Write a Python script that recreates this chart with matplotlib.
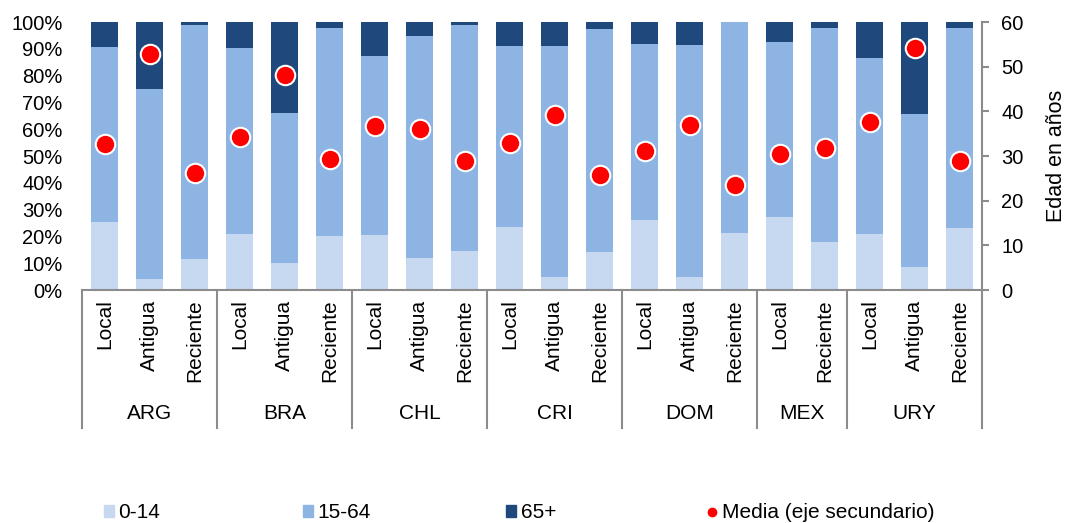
import matplotlib
matplotlib.use("Agg")
import matplotlib.pyplot as plt
from matplotlib.lines import Line2D
from matplotlib.patches import Patch
import numpy as np

plt.rcParams['font.family'] = ['Liberation Sans', 'DejaVu Sans']

countries = ["ARG", "BRA", "CHL", "CRI", "DOM", "MEX", "URY"]
groups = [
    ["Local", "Antigua", "Reciente"],
    ["Local", "Antigua", "Reciente"],
    ["Local", "Antigua", "Reciente"],
    ["Local", "Antigua", "Reciente"],
    ["Local", "Antigua", "Reciente"],
    ["Local", "Reciente"],
    ["Local", "Antigua", "Reciente"],
]
# shares (%) per bar, in order
p0_14 = [25.5, 4.0, 11.7, 21.0, 10.2, 20.3, 20.6, 11.9, 14.7, 23.4, 5.0, 14.3,
         26.2, 4.7, 21.3, 27.4, 18.0, 21.0, 8.6, 23.3]
p15_64 = [65.0, 70.9, 87.1, 69.3, 56.0, 77.5, 66.6, 82.9, 84.1, 67.5, 85.9, 83.2,
          65.6, 86.8, 78.7, 65.0, 79.6, 65.4, 57.2, 74.3]
p65 = [9.5, 25.1, 1.2, 9.7, 33.8, 2.2, 12.8, 5.2, 1.2, 9.1, 9.1, 2.5,
       8.2, 8.5, 0.0, 7.6, 2.4, 13.6, 34.2, 2.4]
media = [32.7, 52.8, 26.1, 34.2, 48.2, 29.3, 36.7, 36.0, 28.9, 32.8, 39.2, 25.8,
         31.1, 37.0, 23.6, 30.5, 31.9, 37.6, 54.1, 28.9]

c1, c2, c3 = "#C6D9F1", "#8DB4E2", "#1F497D"
grey = "#8C8C8C"

fig = plt.figure(figsize=(10.7, 5.23), dpi=100)
ax = fig.add_axes([82/1070, 1-290/523, 900/1070, 268/523])
ax2 = ax.twinx()

labels = [l for g in groups for l in g]
x = np.arange(len(labels))
w = 0.58
b1 = np.array(p0_14)
b2 = b1 + np.array(p15_64)
ax.bar(x, p0_14, w, color=c1, linewidth=0)
ax.bar(x, p15_64, w, bottom=b1, color=c2, linewidth=0)
ax.bar(x, p65, w, bottom=b2, color=c3, linewidth=0)

ax.set_xlim(-0.5, len(labels) - 0.5)
ax.set_ylim(0, 100)
ax.set_yticks(np.arange(0, 101, 10))
ax.set_yticklabels([f"{v}%" for v in range(0, 101, 10)], fontsize=14.5)
ax.tick_params(axis='y', length=0, pad=14)
ax.set_xticks([])
for s in ["top", "left", "right"]:
    ax.spines[s].set_visible(False)
ax.spines["bottom"].set_color(grey)
ax.spines["bottom"].set_linewidth(1.5)

ax2.plot(x, media, linestyle='none', marker='o', markersize=14,
         markerfacecolor='#FF0000', markeredgecolor='white', markeredgewidth=1.5)
ax2.set_ylim(0, 60)
ax2.set_yticks(np.arange(0, 61, 10))
ax2.tick_params(axis='y', labelsize=14.5, length=5, width=1.5, color=grey, pad=9)
for s in ["top", "left", "bottom"]:
    ax2.spines[s].set_visible(False)
ax2.spines["right"].set_color(grey)
ax2.spines["right"].set_linewidth(1.5)
ax2.set_ylabel("Edad en años", fontsize=15.5, labelpad=16)

trans = ax.get_xaxis_transform()
for xi, lab in zip(x, labels):
    ax.text(xi, -0.035, lab, rotation=90, ha='center', va='top', fontsize=15,
            transform=trans)
bounds = [-0.5]
for g in groups:
    bounds.append(bounds[-1] + len(g))
for bx in bounds:
    ax.plot([bx, bx], [0, -0.515], color=grey, lw=1.5, transform=trans, clip_on=False)
for i, c in enumerate(countries):
    ax.text((bounds[i] + bounds[i+1]) / 2, -0.46, c, ha='center', va='center',
            fontsize=15, transform=trans)

# legend items
items = [
    (Patch(facecolor=c1, edgecolor=c1), "0-14", 104),
    (Patch(facecolor=c2, edgecolor=c2), "15-64", 303),
    (Patch(facecolor=c3, edgecolor=c3), "65+", 506),
    (Line2D([], [], linestyle='none', marker='o', markersize=6, color='#FF0000'),
     "Media (eje secundario)", 707),
]
for h, t, px in items:
    fig.legend([h], [t], loc='center left', bbox_to_anchor=(px/1070, 1-513/523),
               frameon=False, fontsize=15, handlelength=0.5, handleheight=0.5,
               handletextpad=0.2, borderpad=0, borderaxespad=0)

fig.savefig("out.png", dpi=100)
